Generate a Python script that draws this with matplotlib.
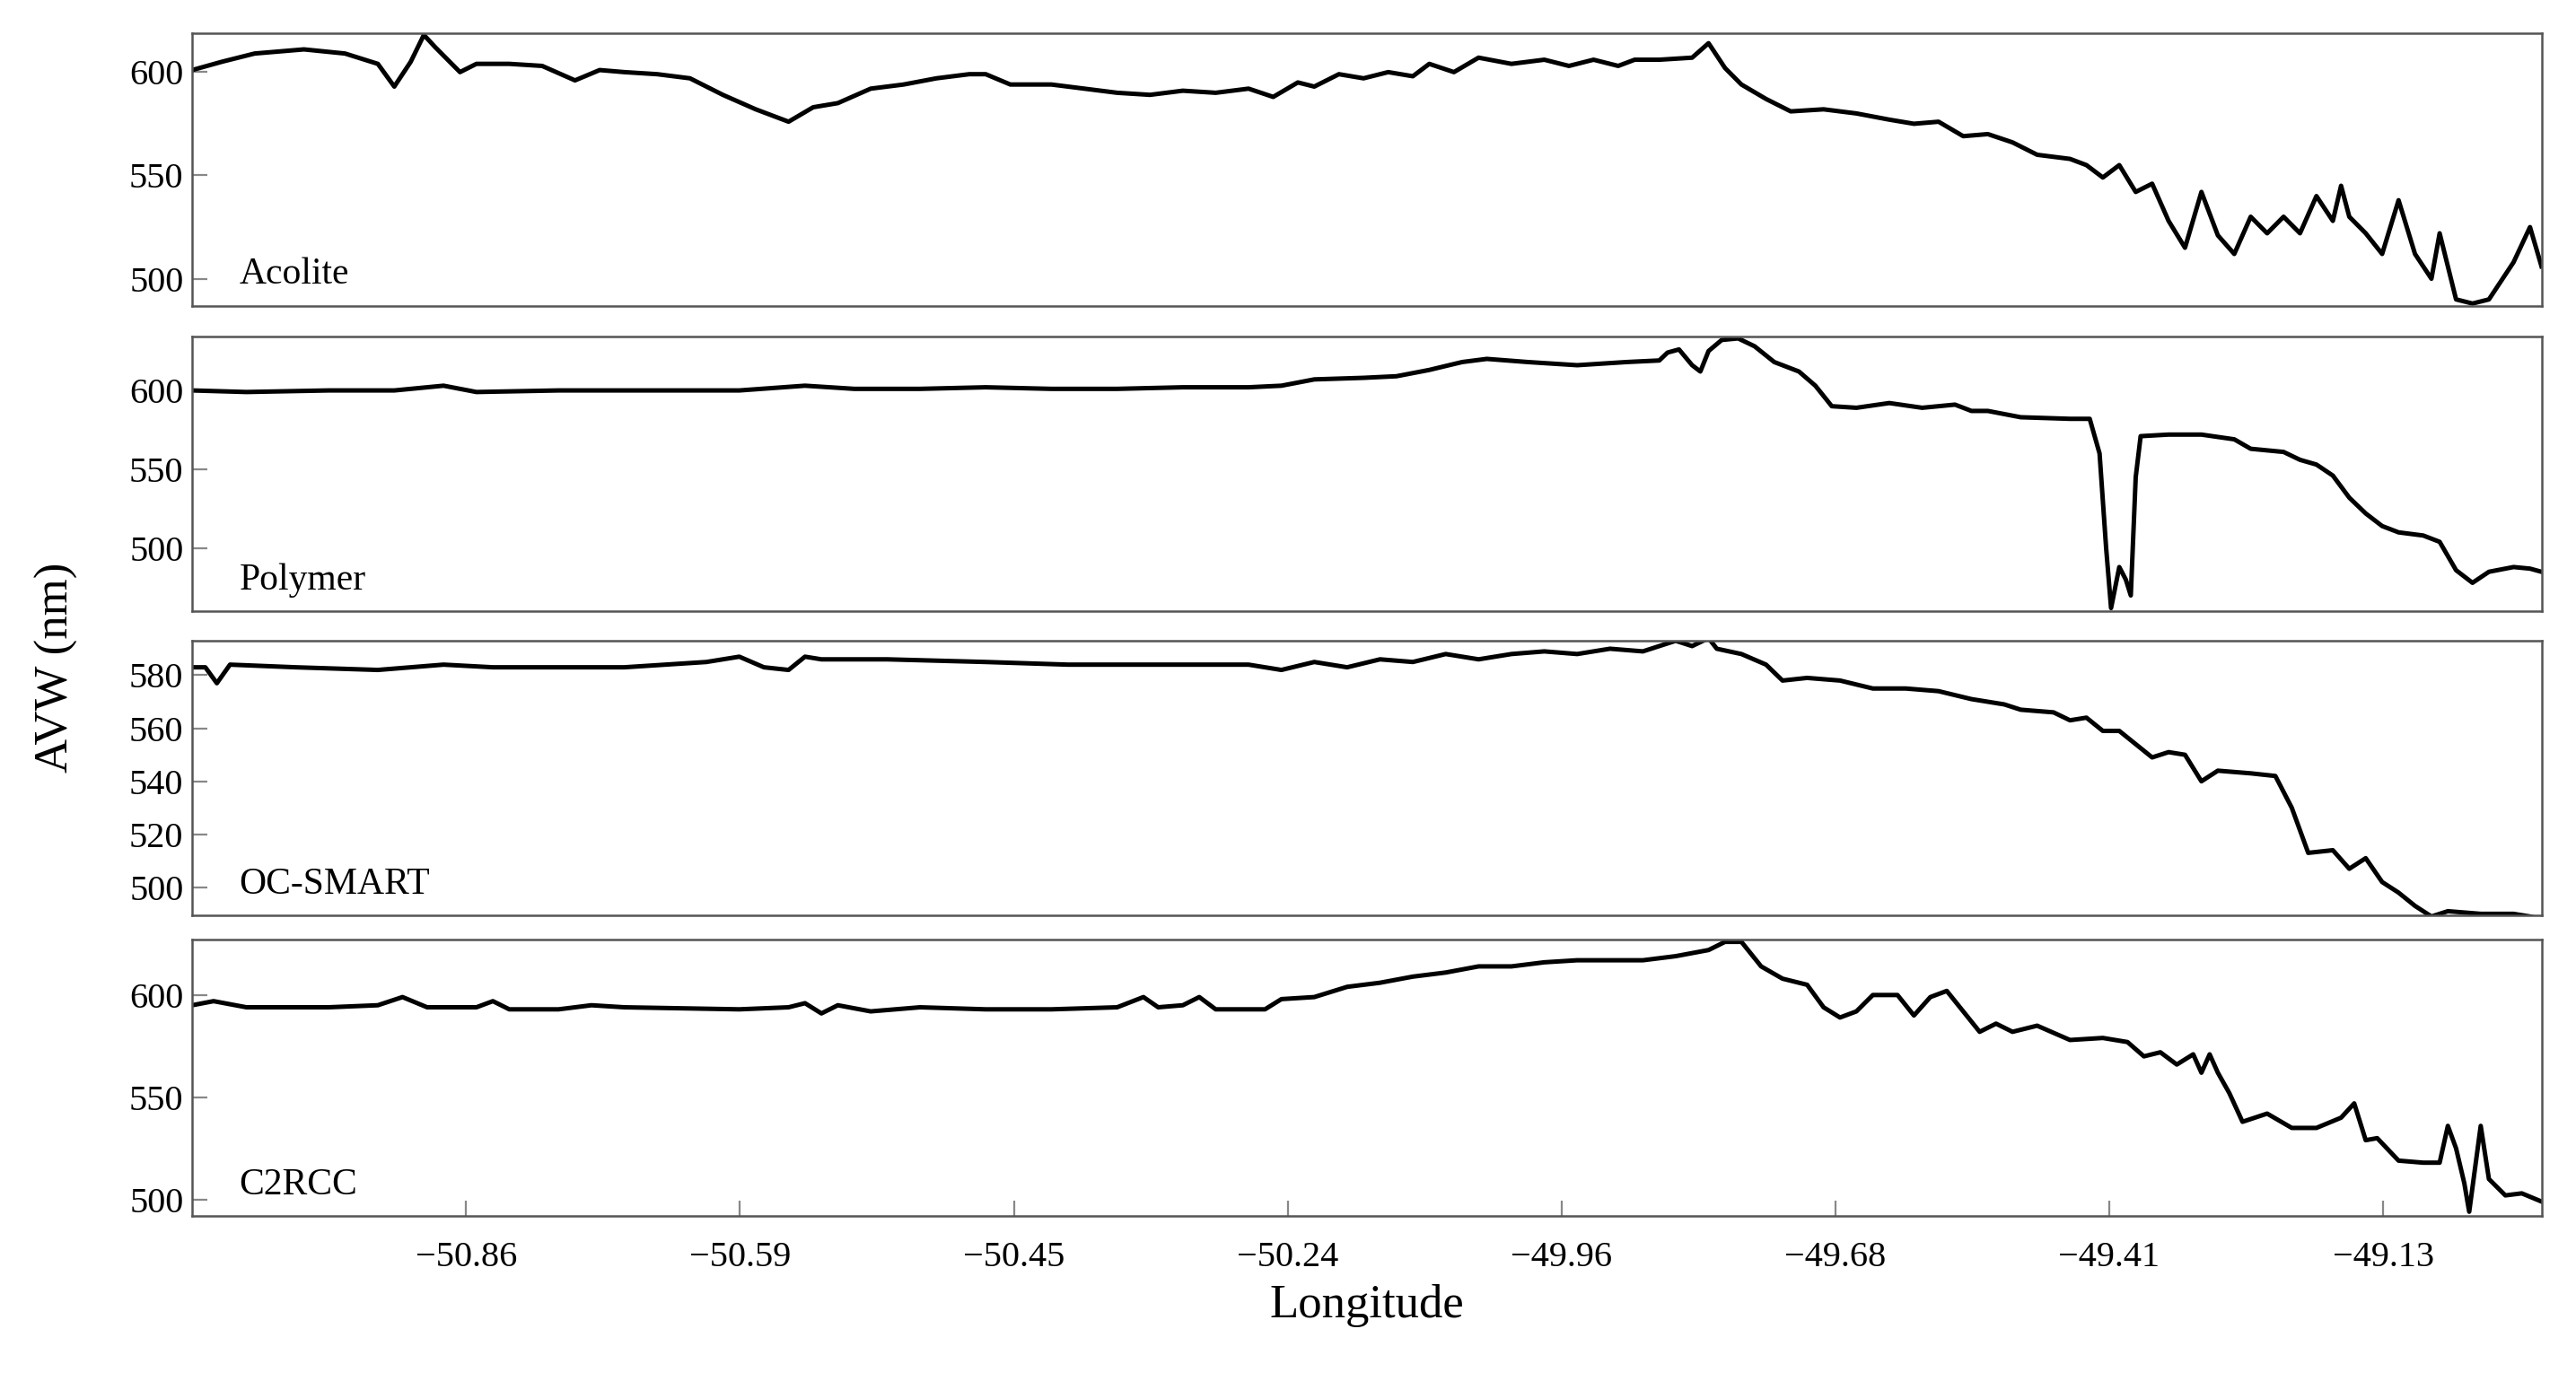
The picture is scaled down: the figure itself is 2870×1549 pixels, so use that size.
import matplotlib.pyplot as plt

plt.rcParams['font.family'] = ['Liberation Serif', 'DejaVu Serif']

# position along the transect (0..1430) and AVW (nm) for each processor
acolite_x = [0,18,38,68,93,113,123,133,141,148,163,173,193,213,233,248,263,283,303,323,343,363,378,393,413,433,453,473,483,498,523,543,563,583,603,623,643,658,673,683,698,713,728,743,753,768,783,803,823,838,853,868,878,893,913,923,933,943,958,973,993,1013,1033,1048,1063,1078,1093,1108,1123,1143,1153,1163,1173,1183,1193,1203,1213,1223,1233,1243,1253,1263,1273,1283,1293,1303,1308,1313,1323,1333,1343,1353,1363,1368,1378,1388,1398,1413,1423,1430]
acolite_y = [601,605,609,611,609,604,593,605,618,612,600,604,604,603,596,601,600,599,597,589,582,576,583,585,592,594,597,599,599,594,594,592,590,589,591,590,592,588,595,593,599,597,600,598,604,600,607,604,606,603,606,603,606,606,607,614,602,594,587,581,582,580,577,575,576,569,570,566,560,558,555,549,555,542,546,528,515,542,521,512,530,522,530,522,540,528,545,530,522,512,538,512,500,522,490,488,490,508,525,506]

polymer_x = [0,33,83,123,153,173,223,283,333,373,403,443,483,523,563,603,643,663,683,713,733,753,773,788,813,843,873,893,898,905,913,918,923,931,941,951,963,978,988,998,1013,1033,1053,1073,1083,1093,1113,1143,1155,1161,1165,1168,1173,1177,1180,1183,1186,1203,1223,1243,1253,1273,1283,1293,1303,1313,1323,1333,1343,1358,1368,1378,1388,1398,1413,1423,1430]
polymer_y = [600,599,600,600,603,599,600,600,600,603,601,601,602,601,601,602,602,603,607,608,609,613,618,620,618,616,618,619,624,626,616,612,625,632,633,628,618,612,603,590,589,592,589,591,587,587,583,582,582,560,500,462,488,480,470,545,571,572,572,569,563,561,556,553,546,532,522,514,510,508,504,486,478,485,488,487,485]

ocsmart_x = [0,8,15,23,63,113,153,183,263,313,333,348,363,373,383,423,483,533,583,643,663,683,703,723,743,763,783,803,823,843,863,883,903,913,923,928,943,958,968,983,1003,1023,1043,1063,1083,1103,1113,1133,1143,1153,1163,1173,1183,1193,1203,1213,1223,1233,1253,1268,1278,1288,1303,1313,1323,1333,1343,1353,1363,1373,1393,1413,1423,1430]
ocsmart_y = [583,583,577,584,583,582,584,583,583,585,587,583,582,587,586,586,585,584,584,584,582,585,583,586,585,588,586,588,589,588,590,589,593,591,594,590,588,584,578,579,578,575,575,574,571,569,567,566,563,564,559,559,554,549,551,550,540,544,543,542,530,513,514,507,511,502,498,493,489,491,490,490,489,488]

c2rcc_x = [0,13,33,83,113,128,143,173,183,193,223,243,263,333,363,373,383,393,413,443,483,523,563,579,588,603,613,623,653,663,683,703,723,743,763,783,803,823,843,863,883,903,923,933,943,955,968,983,993,1003,1013,1023,1038,1048,1058,1068,1078,1088,1098,1108,1123,1143,1163,1178,1188,1198,1208,1218,1223,1228,1233,1240,1248,1263,1278,1293,1308,1316,1323,1330,1343,1358,1368,1373,1378,1383,1386,1393,1398,1408,1418,1430]
c2rcc_y = [595,597,594,594,595,599,594,594,597,593,593,595,594,593,594,596,591,595,592,594,593,593,594,599,594,595,599,593,593,598,599,604,606,609,611,614,614,616,617,617,617,619,622,626,626,614,608,605,594,589,592,600,600,590,599,602,592,582,586,582,585,578,579,577,570,572,566,571,562,571,562,552,538,542,535,535,540,547,529,530,519,518,518,536,525,508,494,536,510,502,503,499]

names = ['Acolite', 'Polymer', 'OC-SMART', 'C2RCC']
xs = [acolite_x, polymer_x, ocsmart_x, c2rcc_x]
ys = [acolite_y, polymer_y, ocsmart_y, c2rcc_y]
ylims = [(487, 619), (460, 634), (489.5, 593), (492, 627)]
yticks = [[500, 550, 600], [500, 550, 600], [500, 520, 540, 560, 580], [500, 550, 600]]
tick_pos = [166.7 * k for k in range(1, 9)]
tick_labels = ['\u221250.86', '\u221250.59', '\u221250.45', '\u221250.24',
               '\u221249.96', '\u221249.68', '\u221249.41', '\u221249.13']

fig = plt.figure(figsize=(14.35, 7.745), dpi=200)
tops = [20, 205, 390, 572]
bots = [186, 372, 557, 740]
H = 846.0
for i in range(4):
    ax = fig.add_axes([117 / 1568, 1 - bots[i] / H, 1430 / 1568, (bots[i] - tops[i]) / H])
    ax.plot(xs[i], ys[i], color='black', lw=1.8)
    ax.set_xlim(0, 1430)
    ax.set_ylim(*ylims[i])
    ax.set_yticks(yticks[i])
    ax.tick_params(axis='y', direction='in', labelsize=14.5, length=6, color='#888888')
    ax.set_xticks(tick_pos)
    if i < 3:
        ax.tick_params(axis='x', bottom=False, labelbottom=False)
    else:
        ax.set_xticklabels(tick_labels)
        ax.tick_params(axis='x', direction='in', labelsize=14.5, length=6, color='#888888', pad=10)
        ax.set_xlabel('Longitude', fontsize=19, labelpad=4)
    for s in ax.spines.values():
        s.set_color('#555555')
        s.set_linewidth(0.9)
    ax.text(0.02, 0.05, names[i], transform=ax.transAxes, fontsize=15, va='bottom')

fig.text(0.022, 0.52, 'AVW (nm)', rotation=90, fontsize=19, va='center', ha='center')
fig.savefig('out.png', dpi=200)
